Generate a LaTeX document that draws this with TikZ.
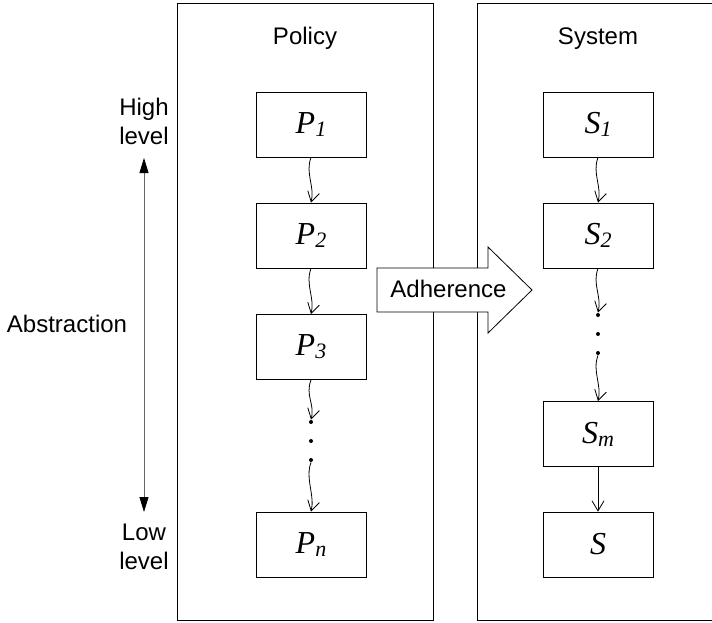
\documentclass[tikz,border=0pt]{standalone}
\usepackage{fontspec}
\setmainfont{Liberation Sans}
\newfontfamily\tms{Liberation Serif}
\usetikzlibrary{arrows.meta}
\newcommand\lsub[1]{\raisebox{-3pt}{\fontsize{22}{22}\selectfont #1}}

\begin{document}
\begin{tikzpicture}[x=1pt,y=-1pt,line width=0.8pt,font=\fontsize{24}{29}\selectfont,
	panel/.style={rectangle,draw,minimum width=#1,minimum height=617pt,inner sep=0pt},
	lvbox/.style={rectangle,draw,minimum width=110pt,minimum height=65pt,inner sep=0pt,font=\tms\itshape\fontsize{32}{36}\selectfont},
	dot/.style={circle,fill,inner sep=0pt,minimum size=4pt},
	wavy/.style={-{Straight Barb[length=10pt,width=12pt]}}]
	\useasboundingbox (0,0) rectangle (712,623);
	% two panels
	\node (policy) at (305,311.5) [panel=256pt] {};
	\node (system) at (602,311.5) [panel=250pt] {};
	\node (poltitle) at (305,45) [anchor=base] {Policy};
	\node (systitle) at (598,45) [anchor=base] {System};
	% policy levels
	\node (p1) at (311,124.5) [lvbox] {P\lsub{1}};
	\node (p2) at (311,235.5) [lvbox] {P\lsub{2}};
	\node (p3) at (311,347) [lvbox] {P\lsub{3}};
	\node (pn) at (311,544.5) [lvbox] {P\lsub{n}};
	\node (pd1) at (311,422) [dot] {};
	\node (pd2) at (311,441) [dot] {};
	\node (pd3) at (311,460) [dot] {};
	\draw [wavy] (p1.south) .. controls +(-6,16) and +(4,-16) .. (p2.north);
	\draw [wavy] (p2.south) .. controls +(-6,16) and +(4,-16) .. (p3.north);
	\draw [wavy] (p3.south) .. controls +(-6,16) and +(4,-16) .. (pd1.north);
	\draw [wavy] (pd3.south) .. controls +(-6,16) and +(4,-16) .. (pn.north);
	% system levels
	\node (s1) at (598,124.5) [lvbox] {S\lsub{1}};
	\node (s2) at (598,235.5) [lvbox] {S\lsub{2}};
	\node (sm) at (598,434) [lvbox] {S\lsub{m}};
	\node (s) at (598,544.5) [lvbox] {S};
	\node (sd1) at (598,315) [dot] {};
	\node (sd2) at (598,334) [dot] {};
	\node (sd3) at (598,353) [dot] {};
	\draw [wavy] (s1.south) .. controls +(-6,16) and +(4,-16) .. (s2.north);
	\draw [wavy] (s2.south) .. controls +(-6,16) and +(4,-16) .. (sd1.north);
	\draw [wavy] (sd3.south) .. controls +(-6,16) and +(4,-16) .. (sm.north);
	\draw [wavy] (sm) -- (s);
	% adherence arrow
	\draw [fill=white] (377,268) -- (488,268) -- (488,247) -- (532,290) -- (488,333) -- (488,312) -- (377,312) -- cycle;
	\node (adh) at (448.5,297) [anchor=base] {Adherence};
	% abstraction axis
	\node (high) at (144,121) [align=center] {High\\level};
	\node (low) at (144,547) [align=center] {Low\\level};
	\node (abs) at (67,324) {Abstraction};
	\coordinate (hi) at (144,158);
	\coordinate (lo) at (144,512);
	\draw [{Triangle[length=15pt,width=9pt,color=black]}-{Triangle[length=15pt,width=9pt,color=black]},draw=black!60] (hi) -- (lo);
\end{tikzpicture}
\end{document}
